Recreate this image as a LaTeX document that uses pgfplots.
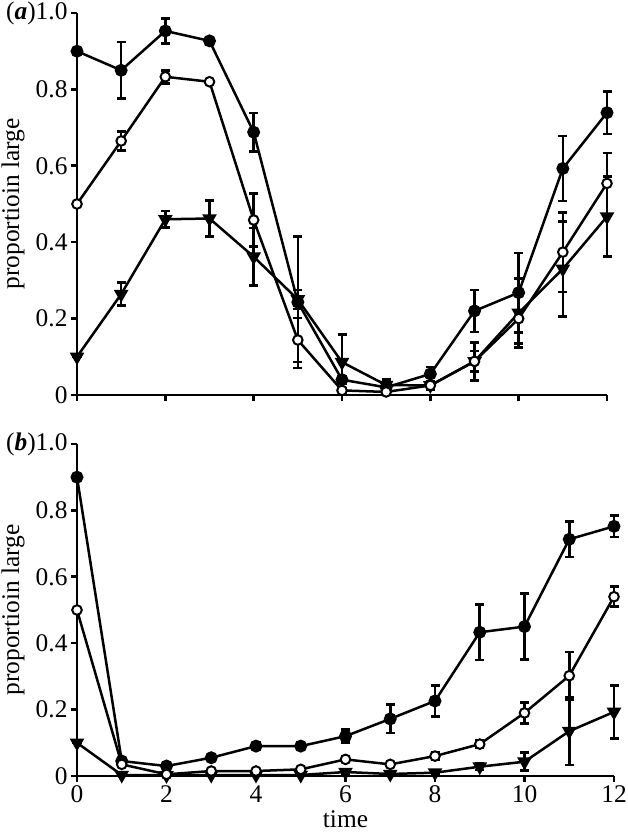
\documentclass[border=0pt]{standalone}
\usepackage{fontspec}
\setmainfont{Liberation Serif}
\usepackage{pgfplots}
\usepackage{pgfplotstable}
\pgfplotsset{compat=1.18}

% panel (a)
\pgfplotstableread{
x   f     fe     o     oe     t     te
0   0.900 0.001  0.500 0.001  0.100 0.001
1   0.850 0.074  0.665 0.025  0.264 0.030
2   0.953 0.033  0.833 0.017  0.460 0.022
3   0.927 0.010  0.820 0.001  0.462 0.047
4   0.688 0.050  0.458 0.070  0.362 0.075
5   0.243 0.172  0.144 0.058  0.250 0.025
6   0.040 0.010  0.012 0.005  0.086 0.073
7   0.020 0.010  0.008 0.005  0.026 0.015
8   0.055 0.018  0.025 0.010  0.025 0.010
9   0.220 0.055  0.088 0.050  0.088 0.027
10  0.268 0.104  0.200 0.065  0.215 0.090
11  0.593 0.085  0.374 0.104  0.330 0.124
12  0.739 0.056  0.554 0.080  0.467 0.105
}\dataA

% panel (b)
\pgfplotstableread{
x   f     fe     o     oe     t     te
0   0.900 0.001  0.500 0.001  0.100 0.001
1   0.045 0.005  0.035 0.005  0.003 0.001
2   0.030 0.005  0.005 0.001  0.002 0.001
3   0.055 0.006  0.015 0.004  0.003 0.001
4   0.090 0.012  0.015 0.004  0.003 0.001
5   0.090 0.010  0.020 0.004  0.003 0.001
6   0.120 0.020  0.050 0.008  0.012 0.005
7   0.172 0.043  0.035 0.005  0.006 0.001
8   0.226 0.047  0.060 0.010  0.010 0.003
9   0.433 0.084  0.096 0.012  0.028 0.010
10  0.450 0.100  0.190 0.032  0.043 0.027
11  0.713 0.053  0.302 0.072  0.135 0.102
12  0.752 0.032  0.540 0.030  0.193 0.080
}\dataB

\pgfplotsset{
  panel/.style={
    scale only axis,
    xmin=0, xmax=12, ymin=0, ymax=1,
    axis x line*=bottom, axis y line*=left,
    axis line style={line width=2.6bp, -},
    tick align=outside,
    major tick length=6bp,
    major tick style={line width=2.6bp, black},
    xtick={0,2,4,6,8,10,12},
    ytick={0,0.2,0.4,0.6,0.8,1},
    tick label style={font=\fontsize{25.5}{28}\selectfont},
    label style={font=\fontsize{25.5}{28}\selectfont},
    ylabel={proportioin large},
    ylabel style={at={(rel axis cs:0,0.5)}, anchor=center, yshift=64bp},
    clip=false,
  },
  errs/.style={
    error bars/.cd, y dir=both, y explicit,
    error bar style={line width=2.6bp, black, solid},
    error mark options={rotate=90, mark size=4.5bp, line width=2.6bp, black},
  },
  fillc/.style={black, line width=2.5bp, mark=*, mark size=5.2bp, mark options={fill=black, solid}},
  openc/.style={black, line width=2.5bp, mark=*, mark size=4.8bp, mark options={fill=white, line width=2bp, solid}},
  tri/.style={black, line width=2.5bp, mark=triangle*, mark size=6bp, mark options={rotate=180, fill=black, solid}},
}

\begin{document}
\begin{tikzpicture}
\useasboundingbox (0,0) rectangle (628bp,834bp);

\begin{axis}[panel,
  at={(77bp,439bp)}, anchor=south west,
  width=530bp, height=382bp,
  xticklabels={},
  yticklabels={0,0.2,0.4,0.6,0.8,{(\textbf{\textit{a}})1.0}},
]
\addplot[fillc, errs] table[x=x, y=f, y error=fe]{\dataA};
\addplot[tri, errs] table[x=x, y=t, y error=te]{\dataA};
\addplot[openc, errs] table[x=x, y=o, y error=oe]{\dataA};
\end{axis}

\begin{axis}[panel,
  at={(77bp,58bp)}, anchor=south west,
  width=537bp, height=332bp,
  xticklabels={0,2,4,6,8,10,12},
  yticklabels={0,0.2,0.4,0.6,0.8,{(\textbf{\textit{b}})1.0}},
  xlabel={time},
  xlabel style={at={(rel axis cs:0.5,0)}, anchor=center, yshift=-43bp},
]
\addplot[fillc, errs] table[x=x, y=f, y error=fe]{\dataB};
\addplot[tri, errs] table[x=x, y=t, y error=te]{\dataB};
\addplot[openc, errs] table[x=x, y=o, y error=oe]{\dataB};
\end{axis}
\end{tikzpicture}
\end{document}
